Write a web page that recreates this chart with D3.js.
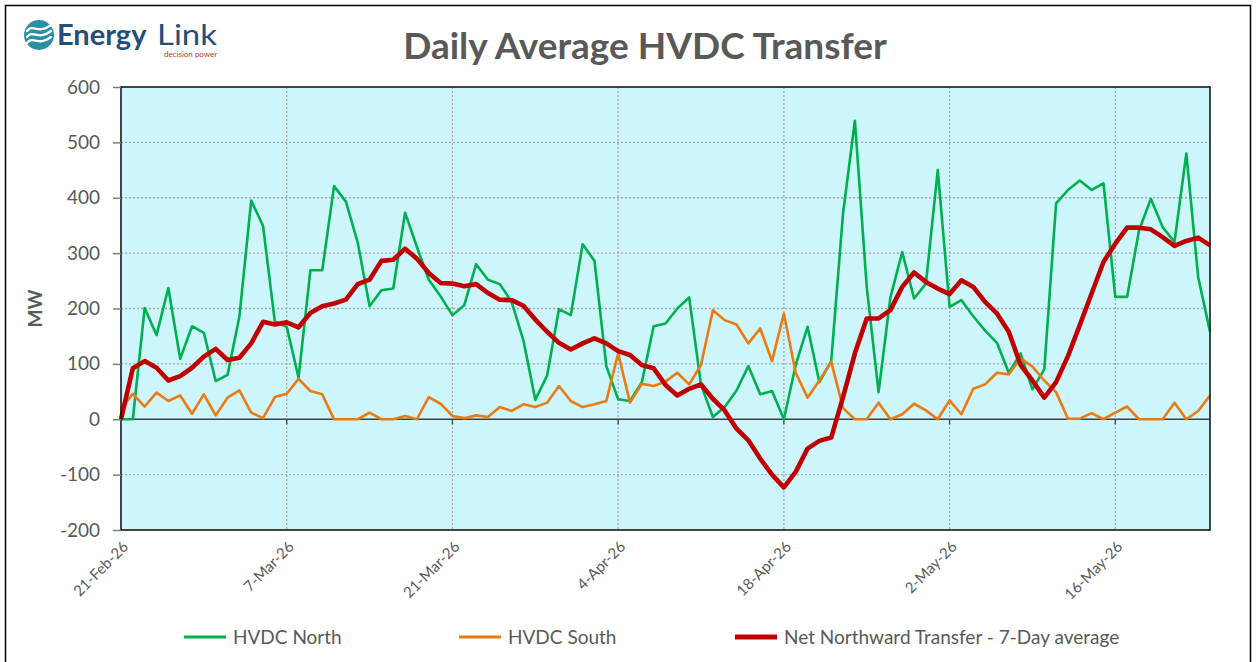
<!DOCTYPE html>
<html><head><meta charset="utf-8">
<script src="https://cdn.jsdelivr.net/npm/d3@7"></script>
<style>
html,body{margin:0;padding:0;background:#fff;}
svg{display:block;font-family:Lato,"Open Sans",sans-serif;}
</style></head>
<body><svg id="c" width="1256" height="662"></svg>
<script>
const startDate = "2026-02-21";
const endDate = "2026-05-24";
const xTickLabels = ["21-Feb-26","7-Mar-26","21-Mar-26","4-Apr-26","18-Apr-26","2-May-26","16-May-26"];
const yTicks = [-200,-100,0,100,200,300,400,500,600];
const seriesNames = ["HVDC North","HVDC South","Net Northward Transfer - 7-Day average"];
const hvdcNorth = [0,0,201,152,237,109,168,156,69,80,185,395,349,176,167,75,269,269,421,393,319,204,233,236,373,311,252,222,188,206,280,252,244,212,142,35,79,199,188,316,286,96,36,33,67,168,173,200,220,62,4,22,52,96,45,51,0,98,167,67,105,372,539,239,49,220,302,218,245,450,203,215,186,160,138,84,119,54,90,390,414,431,414,426,221,221,341,398,347,320,480,257,158];
const hvdcSouth = [18,46,23,48,33,43,10,45,7,39,52,12,2,40,46,73,51,45,0,0,0,12,0,0,6,0,40,28,6,2,7,4,22,15,27,22,30,60,33,22,27,33,119,30,64,60,68,84,63,98,197,179,171,137,164,105,191,84,39,70,104,20,0,0,30,0,9,28,16,0,34,9,55,63,84,81,110,95,70,49,1,1,11,0,12,23,0,0,0,30,0,15,43];
const netNorth = [0,92,105,93,70,78,93,113,127,107,111,137,176,171,175,166,192,204,209,216,244,252,286,288,308,290,264,246,245,240,244,228,216,215,205,180,158,138,126,137,146,137,123,116,98,92,62,43,55,63,37,16,-17,-38,-71,-100,-123,-95,-53,-39,-33,40,119,182,182,197,239,265,248,236,226,251,239,212,191,158,98,70,39,67,114,170,227,284,317,346,346,343,329,313,322,328,314];

const parse = d3.utcParse("%Y-%m-%d");
const d0 = parse(startDate), d1 = parse(endDate);
const dates = hvdcNorth.map((_, i) => d3.utcDay.offset(d0, i));
const tickDates = xTickLabels.map((_, i) => d3.utcDay.offset(d0, 14 * i));

const svg = d3.select("#c");
const M = {l:121, r:1210, t:87, b:530};
const x = d3.scaleUtc().domain([d0, d1]).range([M.l, M.r]);
const y = d3.scaleLinear().domain([-200, 600]).range([M.b, M.t]);
const grey = "#595959";

// outer border
svg.append("rect").attr("x",5.5).attr("y",5.5).attr("width",1245).attr("height",670)
  .attr("fill","#fff").attr("stroke","#000").attr("stroke-width",1.5);

// logo
const logo = svg.append("g");
logo.append("circle").attr("cx",39).attr("cy",35).attr("r",15).attr("fill","#2b8ea3");
[-6,0,6].forEach(o=>{
  logo.append("path").attr("d",`M${27},${37+o} C${33},${29+o} ${38},${41+o} ${51},${31+o}`)
   .attr("fill","none").attr("stroke","#fff").attr("stroke-width",2.4).attr("stroke-linecap","round");
});
logo.append("text").attr("x",57).attr("y",45).attr("font-size",29).attr("font-weight",700)
  .attr("fill","#1f4f7a").attr("font-family","Lato").text("Energy");
logo.append("text").attr("x",157).attr("y",45).attr("font-size",29).attr("font-weight",400)
  .attr("fill","#1f4f7a").attr("font-family","Lato").attr("textLength",60).attr("lengthAdjust","spacingAndGlyphs").text("Link");
logo.append("text").attr("x",164).attr("y",57).attr("font-size",8).attr("fill","#c0392b")
  .attr("font-family","Lato").text("decision power");

// title
svg.append("text").attr("x",645).attr("y",59).attr("text-anchor","middle")
  .attr("font-size",37).attr("font-weight",700).attr("fill",grey).text("Daily Average HVDC Transfer");

// plot bg
svg.append("rect").attr("x",M.l).attr("y",M.t).attr("width",M.r-M.l).attr("height",M.b-M.t)
  .attr("fill","#ccf5fc");

// grid horizontal
svg.append("g").selectAll("line").data(yTicks.filter(v=>v!==0 && v!==600 && v!==-200)).join("line")
  .attr("x1",M.l).attr("x2",M.r).attr("y1",d=>y(d)).attr("y2",d=>y(d))
  .attr("stroke","#a6a6a6").attr("stroke-width",1.3).attr("stroke-dasharray","2,2");
// grid vertical
svg.append("g").selectAll("line").data(tickDates.slice(1)).join("line")
  .attr("x1",d=>x(d)).attr("x2",d=>x(d)).attr("y1",M.t).attr("y2",M.b)
  .attr("stroke","#a6a6a6").attr("stroke-width",1.3).attr("stroke-dasharray","2,2");

// zero line
svg.append("line").attr("x1",M.l).attr("x2",M.r).attr("y1",y(0)).attr("y2",y(0))
  .attr("stroke","#404040").attr("stroke-width",1.3);
// x ticks on zero line
svg.append("g").selectAll("line").data(tickDates.slice(1)).join("line")
  .attr("x1",d=>x(d)).attr("x2",d=>x(d)).attr("y1",y(0)).attr("y2",y(0)+5)
  .attr("stroke","#404040").attr("stroke-width",1.3);

// lines
const line = vals => d3.line().x((d,i)=>x(dates[i])).y(d=>y(d))(vals);
svg.append("path").attr("d",line(hvdcNorth)).attr("fill","none").attr("stroke","#00b050").attr("stroke-width",2.6).attr("stroke-linejoin","round");
svg.append("path").attr("d",line(hvdcSouth)).attr("fill","none").attr("stroke","#ea7a12").attr("stroke-width",2.6).attr("stroke-linejoin","round");
svg.append("path").attr("d",line(netNorth)).attr("fill","none").attr("stroke","#c00000").attr("stroke-width",4.6).attr("stroke-linejoin","round");

// plot border
svg.append("rect").attr("x",M.l).attr("y",M.t).attr("width",M.r-M.l).attr("height",M.b-M.t)
  .attr("fill","none").attr("stroke","#1a1a1a").attr("stroke-width",1.6);

// y axis
const yAxis = d3.axisLeft(y).tickValues(yTicks).tickSize(8).tickPadding(13).tickFormat(d => String(d));
const ya = svg.append("g").attr("transform",`translate(${M.l},0)`).call(yAxis);
ya.select(".domain").remove();
ya.selectAll("line").attr("stroke","#808080").attr("stroke-width",1.5);
ya.selectAll("text").attr("font-size",19).attr("fill",grey).attr("font-family","Lato");

svg.append("text").attr("transform",`translate(42,${(M.t+M.b)/2}) rotate(-90)`)
  .attr("text-anchor","middle").attr("font-size",19).attr("font-weight",700).attr("fill",grey).text("MW");

// x axis labels
const xAxis = d3.axisBottom(x).tickValues(tickDates).tickSize(0).tickFormat((d,i)=>xTickLabels[i]);
const xa = svg.append("g").attr("transform",`translate(0,${M.b})`).call(xAxis);
xa.select(".domain").remove();
xa.selectAll("text").attr("font-size",15).attr("fill",grey).attr("font-family","Lato")
  .attr("text-anchor","end").attr("transform","translate(4,14) rotate(-45)").attr("dy","0.35em").attr("y",0);

// legend
const legendX = [184, 459, 735];
const legendColors = ["#00b050","#ea7a12","#c00000"];
const legendW = [2.6,2.6,4.6];
const lg = svg.append("g");
seriesNames.forEach((n,i)=>{
  lg.append("line").attr("x1",legendX[i]).attr("x2",legendX[i]+42).attr("y1",637).attr("y2",637)
    .attr("stroke",legendColors[i]).attr("stroke-width",legendW[i]+0.6);
  lg.append("text").attr("x",legendX[i]+49).attr("y",644).attr("font-size",19).attr("fill",grey).text(n);
});
</script></body></html>
